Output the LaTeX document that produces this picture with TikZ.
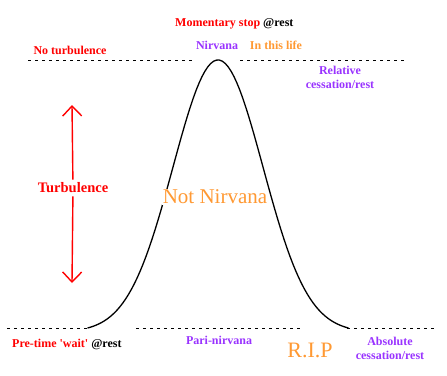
\documentclass[tikz,border=0pt]{standalone}
\usepackage{fontspec}
\setmainfont{Liberation Serif}
\usetikzlibrary{arrows.meta}
\definecolor{nirv}{HTML}{9933FF}
\definecolor{life}{HTML}{FF9933}

\begin{document}
\begin{tikzpicture}[x=1pt, y=-1pt,
  lab/.style={font=\bfseries\fontsize{12}{14}\selectfont, inner sep=0pt, align=center},
  big/.style={font=\fontsize{21}{24}\selectfont, text=life, inner sep=1pt},
  rule/.style={dash pattern=on 3pt off 4pt, line width=0.8pt},
  bell/.style={line width=1.3pt},
  turbarrow/.style={red, line width=1.4pt, -{Straight Barb[length=10pt, width=19pt]}}]
\useasboundingbox (0,0) rectangle (447,375);
% dashed levels
\coordinate (tl0) at (28,60);  \coordinate (tl1) at (192,60);
\coordinate (tr0) at (240,60); \coordinate (tr1) at (404,60);
\coordinate (bl0) at (7,328);   \coordinate (bl1) at (88,328);
\coordinate (bm0) at (136,328); \coordinate (bm1) at (300,328);
\coordinate (br0) at (347,328); \coordinate (br1) at (437,328);
\draw[rule] (tl0) -- (tl1);
\draw[rule] (tr0) -- (tr1);
\draw[rule] (bl0) -- (bl1);
\draw[rule] (bm0) -- (bm1);
\draw[rule] (br0) -- (br1);
% the bell
\draw[bell] plot[domain=-2.9:2.9, samples=90] ({218+45*\x}, {328-268*(exp(-\x*\x/2)-0.0149)/0.9851});
\node[big] (notn) at (215,197) [fill=white] {Not Nirvana};
% turbulence
\coordinate (up) at (72,105);
\coordinate (dn) at (72,283);
\node[lab, text=red, font=\bfseries\fontsize{14.5}{16}\selectfont, inner sep=3pt] (turb) at (73,188) {Turbulence};
\draw[turbarrow] (turb) -- (up);
\draw[turbarrow] (turb) -- (dn);
% top labels
\node[lab, anchor=west] (mom) at (175,24) {\textcolor{red}{Momentary stop} @rest};
\node[lab, text=red] (noturb) at (70,50) {No turbulence};
\node[lab, text=nirv] (nirvana) at (217,45) {Nirvana};
\node[lab, text=life] (life) at (276,45) {In this life};
\node[lab, text=nirv] (relative) at (340,77) {Relative\\cessation/rest};
% bottom labels
\node[lab, anchor=west] (pre) at (12,344) {\textcolor{red}{Pre-time \textquotesingle wait\textquotesingle} @rest};
\node[lab, text=nirv] (pari) at (219,340) {Pari-nirvana};
\node[big, font=\fontsize{22}{24}\selectfont] (rip) at (310,350) {R.I.P};
\node[lab, text=nirv] (absolute) at (390,348) {Absolute\\cessation/rest};
\end{tikzpicture}
\end{document}
